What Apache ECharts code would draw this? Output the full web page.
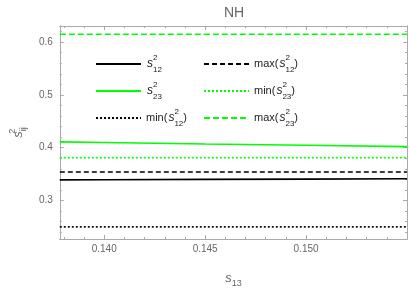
<!DOCTYPE html>
<html><head><meta charset="utf-8">
<script src="https://cdn.jsdelivr.net/npm/echarts@6/dist/echarts.min.js"></script>
<style>html,body{margin:0;padding:0;background:#fff}#c{width:409px;height:293px}</style>
</head><body><div id="c"></div>
<script>
// data
const s13 = [0.1378, 0.140, 0.145, 0.150, 0.155];
const s12sq = [0.339, 0.3393, 0.340, 0.3405, 0.341];
const s23sq = [0.411, 0.4099, 0.407, 0.4045, 0.402];
const boundX = [0.1378, 0.155];
const min12 = [0.250, 0.250];
const max12 = [0.354, 0.354];
const min23 = [0.381, 0.381];
const max23 = [0.615, 0.615];
const xMajor = [0.140, 0.145, 0.150];
const xMinor = [0.138,0.139,0.141,0.142,0.143,0.144,0.146,0.147,0.148,0.149,0.151,0.152,0.153,0.154,0.155];
const yMajor = [0.3, 0.4, 0.5, 0.6];
const yMinor = [0.24,0.26,0.28,0.32,0.34,0.36,0.38,0.42,0.44,0.46,0.48,0.52,0.54,0.56,0.58,0.62];

const zip = (xs, ys) => xs.map((x, i) => [x, ys[i]]);
const GREEN = '#00ff00';
const FRAME = '#aaaaaa';
const LBL = '#666666';

const labels = {
  's12': '{i|s}{sup|2}{sub|12}',
  's23': '{i|s}{sup|2}{sub|23}',
  'min12': '{t|min(}{i|s}{sup|2}{sub|12}{t|)}',
  'max12': '{t|max(}{i|s}{sup|2}{sub|12}{t|)}',
  'min23': '{t|min(}{i|s}{sup|2}{sub|23}{t|)}',
  'max23': '{t|max(}{i|s}{sup|2}{sub|23}{t|)}'
};
const rich = {
  t: {fontSize: 11, color: '#222', lineHeight: 20, fontFamily: 'Liberation Sans'},
  i: {fontSize: 12, color: '#222', fontStyle: 'italic', lineHeight: 20, fontFamily: 'Liberation Sans', padding: [0,0,0,1]},
  sup: {fontSize: 8, color: '#222', lineHeight: 11, verticalAlign: 'top', width: 0, fontFamily: 'Liberation Sans'},
  sub: {fontSize: 8, color: '#222', lineHeight: 11, verticalAlign: 'bottom', fontFamily: 'Liberation Sans'}
};

function mkX(pos, vals, len, showLabel) {
  return {type: 'value', min: 0.1378, max: 0.155, position: pos,
    axisLine: {show: true, onZero: false, lineStyle: {color: FRAME, width: 1}},
    axisTick: {show: true, inside: true, length: len, customValues: vals, lineStyle: {color: FRAME}},
    axisLabel: {show: showLabel, customValues: vals, color: LBL, fontSize: 10, margin: 5,
      fontFamily: 'Liberation Sans', formatter: v => v.toFixed(3)},
    splitLine: {show: false}};
}
function mkY(pos, vals, len, showLabel) {
  return {type: 'value', min: 0.227, max: 0.6305, position: pos,
    axisLine: {show: true, onZero: false, lineStyle: {color: FRAME, width: 1}},
    axisTick: {show: true, inside: true, length: len, customValues: vals, lineStyle: {color: FRAME}},
    axisLabel: {show: showLabel, customValues: vals, color: LBL, fontSize: 10, margin: 7,
      fontFamily: 'Liberation Sans', formatter: v => v.toFixed(1)},
    splitLine: {show: false}};
}
const xAxes = [mkX('bottom', xMajor, 4, true), mkX('bottom', xMinor, 2, false), mkX('top', xMajor, 4, false), mkX('top', xMinor, 2, false)];
xAxes[0].name = '{i|s}{sub|13}';
xAxes[0].nameLocation = 'middle';
xAxes[0].nameGap = 29;
xAxes[0].nameTextStyle = {rich: {
  i: {fontSize: 13, color: LBL, fontStyle: 'italic', fontFamily: 'Liberation Sans', lineHeight: 20},
  sub: {fontSize: 9, color: LBL, fontFamily: 'Liberation Sans', verticalAlign: 'bottom', lineHeight: 13}}};
const yAxes = [mkY('left', yMajor, 4, true), mkY('left', yMinor, 2, false), mkY('right', yMajor, 4, false), mkY('right', yMinor, 2, false)];
yAxes[0].name = '{i|s}{sup|2}{sub|ij}';
yAxes[0].nameLocation = 'middle';
yAxes[0].nameGap = 31;
yAxes[0].nameRotate = 90;
yAxes[0].nameTextStyle = {rich: {
  i: {fontSize: 13, color: LBL, fontStyle: 'italic', fontFamily: 'Liberation Sans', lineHeight: 20},
  sup: {fontSize: 9, color: LBL, fontFamily: 'Liberation Sans', verticalAlign: 'top', lineHeight: 11, width: 0},
  sub: {fontSize: 9, color: LBL, fontFamily: 'Liberation Sans', verticalAlign: 'bottom', lineHeight: 11}}};

function line(name, data, color, type, width) {
  return {name, type: 'line', data, xAxisIndex: 0, yAxisIndex: 0, symbol: 'none', showSymbol: false,
    silent: true, animation: false, lineStyle: {color, type, width}, itemStyle: {color}};
}
const legendCommon = {orient: 'vertical', itemWidth: 45, itemHeight: 14, itemGap: 7,
  itemStyle: {opacity: 0, borderWidth: 0}, symbolKeepAspect: false,
  formatter: n => labels[n], textStyle: {rich}, selectedMode: false};

const chart = echarts.init(document.getElementById('c'), null, {renderer: 'canvas'});
chart.setOption({
  animation: false,
  backgroundColor: '#fff',
  title: {text: 'NH', left: 229, top: 1, textAlign: 'center',
    textStyle: {color: LBL, fontSize: 14, fontWeight: 'normal', fontFamily: 'Liberation Sans'}},
  grid: {left: 51, right: 2, top: 26, bottom: 46, containLabel: false},
  xAxis: xAxes,
  yAxis: yAxes,
  legend: [
    Object.assign({left: 90, top: 49, data: ['s12', 's23', 'min12']}, legendCommon),
    Object.assign({left: 198, top: 49, data: ['max12', 'min23', 'max23']}, legendCommon)
  ],
  series: [
    line('s12', zip(s13, s12sq), '#000', 'solid', 1.6),
    line('s23', zip(s13, s23sq), GREEN, 'solid', 1.6),
    line('min12', zip(boundX, min12), '#000', [2, 2], 1.6),
    line('max12', zip(boundX, max12), '#000', [5, 3], 1.6),
    line('min23', zip(boundX, min23), GREEN, [2, 2], 1.6),
    line('max23', zip(boundX, max23), GREEN, [6, 3], 1.6)
  ]
});
</script></body></html>
